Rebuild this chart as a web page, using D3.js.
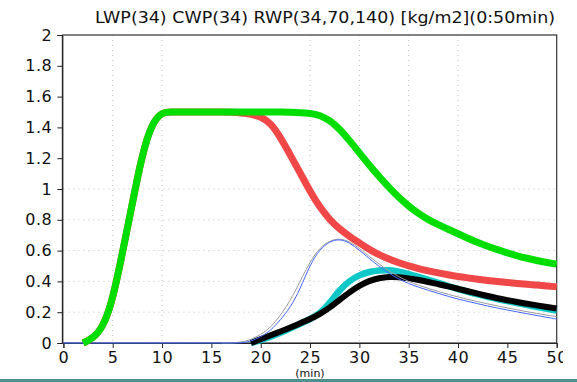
<!DOCTYPE html>
<html><head><meta charset="utf-8">
<script src="https://cdn.jsdelivr.net/npm/d3@7"></script>
<style>html,body{margin:0;padding:0;background:#fff;}svg{display:block;}</style>
</head><body>
<svg id="c" width="577" height="382"></svg>
<script>
const title = "LWP(34) CWP(34) RWP(34,70,140) [kg/m2](0:50min)";
const xLabel = "(min)";
const xTicks = [0,5,10,15,20,25,30,35,40,45,50];
const yTicks = [0,0.2,0.4,0.6,0.8,1,1.2,1.4,1.6,1.8,2];
const yTickLabels = ["0","0.2","0.4","0.6","0.8","1","1.2","1.4","1.6","1.8","2"];
const xGrid = [5,10,25,30,35,40];
const yGrid = [0.2,0.4,0.6,0.8,1];

const time = d3.range(0,51);
const green = [null,null,0,0.03,0.10,0.28,0.59,0.91,1.23,1.43,1.5,1.5,1.5,1.5,1.5,1.5,1.5,1.5,1.5,1.5,1.5,1.5,1.5,1.498,1.496,1.492,1.48,1.445,1.39,1.315,1.235,1.155,1.08,1.01,0.945,0.888,0.84,0.80,0.768,0.738,0.71,0.68,0.652,0.628,0.606,0.585,0.566,0.55,0.535,0.523,0.512];
const red = [null,null,0,0.03,0.10,0.28,0.59,0.91,1.23,1.43,1.5,1.5,1.5,1.5,1.5,1.5,1.5,1.498,1.494,1.486,1.47,1.43,1.335,1.22,1.105,0.985,0.88,0.80,0.74,0.692,0.65,0.607,0.573,0.545,0.52,0.50,0.483,0.468,0.455,0.443,0.432,0.423,0.414,0.406,0.399,0.393,0.387,0.381,0.376,0.371,0.365];
const blue = [0,0,0,0,0,0,0,0,0,0,0,0,0,0,0,0,0,0,0,0.01,0.04,0.08,0.15,0.23,0.35,0.51,0.61,0.66,0.676,0.652,0.603,0.549,0.497,0.452,0.414,0.386,0.362,0.342,0.322,0.303,0.285,0.27,0.255,0.24,0.227,0.214,0.202,0.19,0.178,0.167,0.155];
const gray = [null,null,null,null,null,null,null,null,null,null,null,null,null,null,null,null,0,0,0.005,0.02,0.055,0.10,0.18,0.275,0.40,0.53,0.62,0.665,0.68,0.66,0.614,0.563,0.512,0.467,0.43,0.399,0.375,0.354,0.334,0.316,0.299,0.283,0.268,0.254,0.241,0.228,0.215,0.203,0.192,0.181,0.171];
const cyan = [null,null,null,null,null,null,null,null,null,null,null,null,null,null,null,null,null,null,null,0,0.018,0.04,0.065,0.095,0.125,0.155,0.19,0.26,0.345,0.405,0.442,0.463,0.473,0.474,0.465,0.448,0.43,0.41,0.39,0.37,0.35,0.332,0.315,0.30,0.285,0.272,0.259,0.246,0.234,0.222,0.21];
const black = [null,null,null,null,null,null,null,null,null,null,null,null,null,null,null,null,null,null,null,0,0.025,0.05,0.075,0.10,0.128,0.155,0.187,0.23,0.28,0.33,0.373,0.404,0.422,0.43,0.428,0.42,0.41,0.396,0.382,0.368,0.352,0.336,0.32,0.305,0.29,0.278,0.266,0.255,0.244,0.234,0.224];

const svg = d3.select("#c");
const x = d3.scaleLinear().domain([0,50]).range([63.4,556.7]);
const y = d3.scaleLinear().domain([0,2]).range([343,35]);
const font = "'DejaVu Sans', sans-serif";

// bottom teal strip
svg.append("rect").attr("x",0).attr("y",379).attr("width",577).attr("height",3).attr("fill","#4f8f8f");

// grid
svg.append("g").selectAll("line").data(xGrid).join("line")
  .attr("x1",d=>x(d)).attr("x2",d=>x(d)).attr("y1",y(2)).attr("y2",y(0))
  .attr("stroke","#c0c0c0").attr("stroke-width",1).attr("stroke-dasharray","1,4");
svg.append("g").selectAll("line").data(yGrid).join("line")
  .attr("x1",x(0)).attr("x2",x(50)).attr("y1",d=>y(d)).attr("y2",d=>y(d))
  .attr("stroke","#c0c0c0").attr("stroke-width",1).attr("stroke-dasharray","1,4");

// frame
svg.append("rect").attr("x",x(0)-1).attr("y",y(2)).attr("width",x(50)-x(0)+1).attr("height",y(0)-y(2))
  .attr("fill","none").attr("stroke","#333").attr("stroke-width",1.2);

// axes
const yAxis = d3.axisLeft(y).tickValues(yTicks).tickSize(5).tickPadding(5)
  .tickFormat((d,i)=>yTickLabels[i]);
const gy = svg.append("g").attr("transform",`translate(${x(0)-1},0)`).call(yAxis);
gy.select(".domain").attr("stroke","#222");
gy.selectAll(".tick line").attr("stroke","#222");
gy.selectAll("text").attr("font-family",font).attr("font-size",16).attr("fill","#111").attr("letter-spacing","0.6");

const defs = svg.append("defs");
defs.append("clipPath").attr("id","xclip").append("rect").attr("x",0).attr("y",0).attr("width",563).attr("height",382);
const xAxis = d3.axisBottom(x).tickValues(xTicks).tickSize(5).tickPadding(4).tickFormat(d3.format("d"));
const gx = svg.append("g").attr("transform",`translate(0,${y(0)})`).attr("clip-path","url(#xclip)").call(xAxis);
gx.select(".domain").attr("stroke","#222");
gx.selectAll(".tick line").attr("stroke","#222");
gx.selectAll("text").attr("font-family",font).attr("font-size",16).attr("fill","#111").attr("letter-spacing","0.6");

svg.append("text").attr("x",310).attr("y",377).attr("text-anchor","middle")
  .attr("font-family",font).attr("font-size",11).attr("fill","#111").text(xLabel);

// title
svg.append("text").attr("x",325).attr("y",23).attr("text-anchor","middle")
  .attr("font-family",font).attr("font-size",15).attr("fill","#111")
  .attr("textLength",460).attr("lengthAdjust","spacingAndGlyphs").text(title);

// lines
const mk = arr => d3.line().defined((d,i)=>arr[i]!==null).x((d,i)=>x(time[i])).y((d,i)=>y(arr[i])).curve(d3.curveBasis)(arr);
const series = [
  {v:cyan, c:"#10c8c8", w:6.5},
  {v:black, c:"#000000", w:6},
  {v:gray, c:"#9a9a9a", w:1},
  {v:blue, c:"#4466ff", w:1},
  {v:red, c:"#f04848", w:7},
  {v:green, c:"#00dd00", w:7}
];
svg.append("g").selectAll("path").data(series).join("path")
  .attr("d",s=>mk(s.v)).attr("fill","none").attr("stroke",s=>s.c).attr("stroke-width",s=>s.w)
  .attr("stroke-linejoin","round").attr("stroke-linecap","butt");
</script>
</body></html>
